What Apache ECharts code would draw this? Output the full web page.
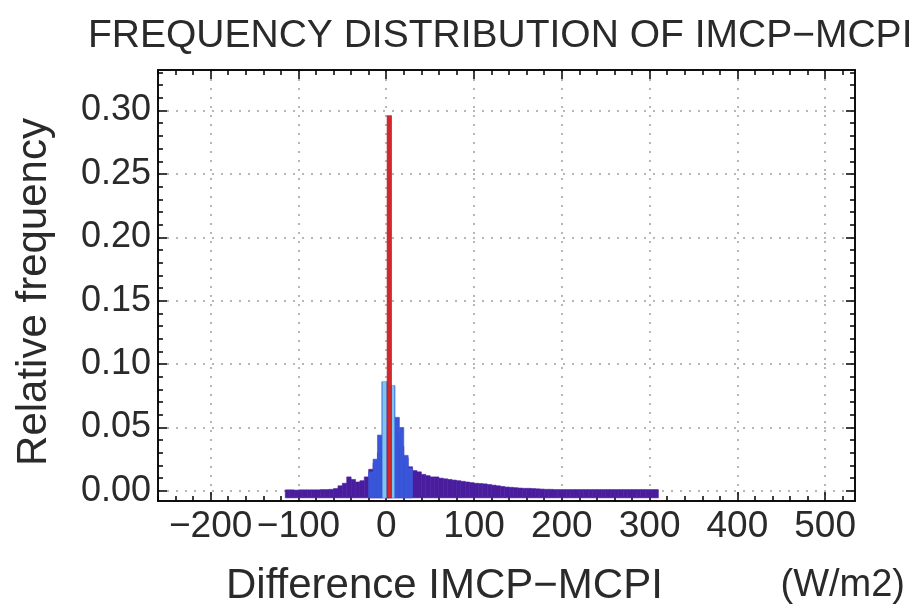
<!DOCTYPE html>
<html>
<head>
<meta charset="utf-8">
<script src="https://cdn.jsdelivr.net/npm/echarts@6/dist/echarts.min.js"></script>
<style>html,body{margin:0;padding:0;background:#fff;}#c{width:922px;height:610px;}</style>
</head>
<body>
<div id="c"></div>
<script>
// ---- data ----
const binWidth = 5;
const purpleBins = [-115,-110,-105,-100,-95,-90,-85,-80,-75,-70,-65,-60,-55,-50,-45,-40,-35,-30,-25,-20,-15,-10,-5,0,5,10,15,20,25,30,35,40,45,50,55,60,65,70,75,80,85,90,95,100,105,110,115,120,125,130,135,140,145,150,155,160,165,170,175,180,185,190,195,200,205,210,215,220,225,230,235,240,245,250,255,260,265,270,275,280,285,290,295,300,305];
const purpleFreq = [0.0008,0.0008,0.0006,0.0008,0.0008,0.0008,0.0008,0.0008,0.001,0.001,0.0012,0.0018,0.004,0.006,0.011,0.009,0.007,0.008,0.011,0.017,0.022,0.030,0.040,0.050,0.050,0.045,0.035,0.026,0.019,0.016,0.015,0.013,0.012,0.011,0.011,0.010,0.0095,0.009,0.0085,0.008,0.0075,0.007,0.0065,0.006,0.0058,0.0055,0.005,0.0045,0.004,0.0035,0.003,0.0028,0.0025,0.0022,0.002,0.002,0.0018,0.0016,0.0014,0.0012,0.0012,0.001,0.001,0.001,0.001,0.001,0.001,0.001,0.001,0.001,0.001,0.001,0.001,0.001,0.001,0.001,0.001,0.001,0.001,0.001,0.001,0.001,0.001,0.001,0.001];
const blueBins = [-20,-15,-10,-5,0,5,10,15,20,25];
const blueFreq = [0.015,0.025,0.044,0.086,0.086,0.083,0.058,0.050,0.028,0.018];
const cyanEdges = [[-4,0],[6,9]];
const cyanFreq = [0.086,0.083];
const redEdges = [[1,6]];
const redFreq = [0.296];

const xMajorTicks = [-200,-100,0,100,200,300,400,500];
const xMinorTicks = [-260,-240,-220,-180,-160,-140,-120,-80,-60,-40,-20,20,40,60,80,120,140,160,180,220,240,260,280,320,340,360,380,420,440,460,480,520];
const yMajorTicks = [0,0.05,0.10,0.15,0.20,0.25,0.30];
const yMinorTicks = [0.01,0.02,0.03,0.04,0.06,0.07,0.08,0.09,0.11,0.12,0.13,0.14,0.16,0.17,0.18,0.19,0.21,0.22,0.23,0.24,0.26,0.27,0.28,0.29,0.31,0.32,0.33];

const xMin = -260, xMax = 534, yMin = -0.008, yMax = 0.332;
const barBase = -0.0055;

// ---- build ----
const chart = echarts.init(document.getElementById('c'), null, {renderer:'canvas'});
const FONT = 'Liberation Sans, Arial, sans-serif';
const minus = v => (v < 0 ? '\u2212' + Math.abs(v) : String(v));

function histSeries(name, data, fill, stroke, z) {
  return {
    type: 'custom', name, z, xAxisIndex: 0, yAxisIndex: 0,
    data,
    renderItem: (params, api) => {
      const p0 = api.coord([api.value(0), api.value(2)]);
      const p1 = api.coord([api.value(1), barBase]);
      return {
        type: 'rect',
        shape: {x: p0[0], y: p0[1], width: p1[0] - p0[0], height: p1[1] - p0[1]},
        style: {fill, stroke: stroke || fill, lineWidth: 0.6}
      };
    },
    animation: false
  };
}

const purpleData = purpleBins.map((b, i) => [b, b + binWidth, purpleFreq[i]]);
const blueData = blueBins.map((b, i) => [b, b + binWidth, blueFreq[i]]);
const cyanData = cyanEdges.map((e, i) => [e[0], e[1], cyanFreq[i]]);
const redData = redEdges.map((e, i) => [e[0], e[1], redFreq[i]]);

function xAx(pos, ticks, len, labels, split) {
  return {
    type: 'value', position: pos, min: xMin, max: xMax,
    axisLine: {show: true, onZero: false, lineStyle: {color: '#000', width: 1.5}},
    axisTick: {show: true, inside: true, length: len, customValues: ticks, lineStyle: {color: '#000', width: 1.5}},
    axisLabel: labels ? {show: true, customValues: xMajorTicks, formatter: minus, fontSize: 37, fontFamily: FONT, color: '#2a2a2a', margin: 7} : {show: false},
    splitLine: split ? {show: true, lineStyle: {color: '#a0a0a0', width: 1.5, type: [2, 7]}} : {show: false}
  };
}
function yAx(pos, ticks, len, labels, split) {
  return {
    type: 'value', position: pos, min: yMin, max: yMax,
    axisLine: {show: true, onZero: false, lineStyle: {color: '#000', width: 1.5}},
    axisTick: {show: true, inside: true, length: len, customValues: ticks, lineStyle: {color: '#000', width: 1.5}},
    axisLabel: labels ? {show: true, customValues: yMajorTicks, formatter: v => v.toFixed(2), fontSize: 36, fontFamily: FONT, color: '#2a2a2a', margin: 7} : {show: false},
    splitLine: split ? {show: true, lineStyle: {color: '#a0a0a0', width: 1.5, type: [2, 7]}} : {show: false}
  };
}

chart.setOption({
  backgroundColor: '#fff',
  animation: false,
  grid: {left: 158, top: 70, width: 697, height: 431, show: false, containLabel: false},
  xAxis: [
    xAx('bottom', xMajorTicks, 9, true, true),
    xAx('bottom', xMinorTicks, 5, false, false),
    xAx('top', xMajorTicks, 9, false, false),
    xAx('top', xMinorTicks, 5, false, false)
  ],
  yAxis: [
    yAx('left', yMajorTicks, 9, true, true),
    yAx('left', yMinorTicks, 5, false, false),
    yAx('right', yMajorTicks, 9, false, false),
    yAx('right', yMinorTicks, 5, false, false)
  ],
  series: [
    histSeries('all', purpleData, '#4a1c9e', null, 2),
    histSeries('blue', blueData, '#3a56d8', null, 3),
    histSeries('cyan', cyanData, '#7cc6ee', null, 4),
    histSeries('red', redData, '#d0282c', '#a81418', 5)
  ],
  graphic: [
    {type: 'text', x: 88, y: 36, style: {text: 'FREQUENCY DISTRIBUTION OF IMCP\u2212MCPI', fontSize: 39, fontFamily: FONT, fill: '#2a2a2a', align: 'left', verticalAlign: 'middle'}, z: 10},
    {type: 'text', x: 226, y: 586, style: {text: 'Difference IMCP\u2212MCPI', fontSize: 42, fontFamily: FONT, fill: '#2a2a2a', align: 'left', verticalAlign: 'middle'}, z: 10},
    {type: 'text', x: 905, y: 586, style: {text: '(W/m2)', fontSize: 38, fontFamily: FONT, fill: '#2a2a2a', align: 'right', verticalAlign: 'middle'}, z: 10},
    {type: 'text', x: 34, y: 292, rotation: Math.PI / 2, style: {text: 'Relative frequency', fontSize: 42, fontFamily: FONT, fill: '#2a2a2a', align: 'center', verticalAlign: 'middle'}, z: 10}
  ]
});
</script>
</body>
</html>
